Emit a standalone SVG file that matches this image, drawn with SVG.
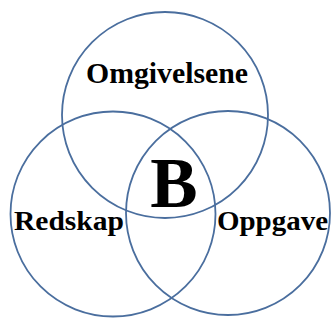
<svg xmlns="http://www.w3.org/2000/svg" width="331" height="322" viewBox="0 0 331 322">
<style>
.c{fill:none;stroke:#4a6e9e;stroke-width:1.8}
.t{font-family:"Liberation Serif","Times New Roman",serif;font-weight:bold;fill:#000}
</style>
<rect width="331" height="322" fill="#fff"/>
<g id="connectors"></g>
<g id="omgivelsene">
<circle class="c" cx="165" cy="115" r="103"/>
<text class="t" x="86" y="83" font-size="30" textLength="162" lengthAdjust="spacingAndGlyphs">Omgivelsene</text>
</g>
<g id="redskap">
<circle class="c" cx="113" cy="214" r="102.5"/>
<text class="t" x="14" y="230" font-size="28" textLength="110" lengthAdjust="spacingAndGlyphs">Redskap</text>
</g>
<g id="oppgave">
<circle class="c" cx="228" cy="213" r="102"/>
<text class="t" x="217" y="230" font-size="28" textLength="111" lengthAdjust="spacingAndGlyphs">Oppgave</text>
</g>
<g id="b">
<text class="t" x="174" y="207" font-size="71" text-anchor="middle">B</text>
</g>
</svg>
